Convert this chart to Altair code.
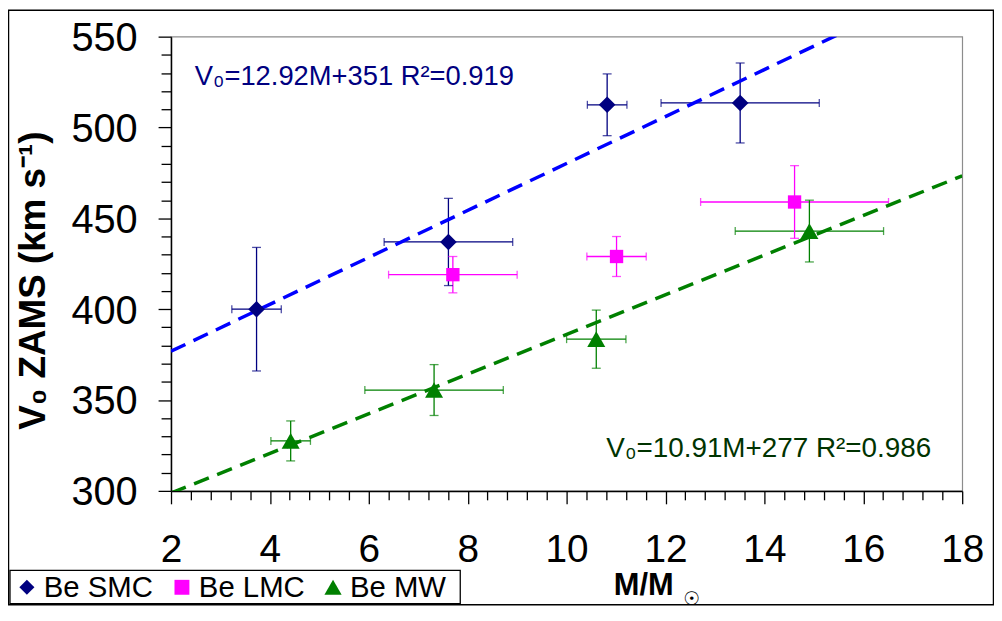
import altair as alt
import pandas as pd

# ---------------- data ----------------
groups = ["Be SMC", "Be LMC", "Be MW"]
colors = ["#000080", "#FF00FF", "#008000"]
shapes = ["diamond", "square", "triangle-up"]

smc_m = [3.73, 7.61, 10.82, 13.51]
smc_v = [400, 437, 512.5, 513.5]
smc_m_err = [0.5, 1.3, 0.4, 1.6]
smc_v_err = [34, 24, 17, 22]

lmc_m = [7.70, 11.01, 14.61]
lmc_v = [419, 429, 459]
lmc_m_err = [1.3, 0.6, 1.9]
lmc_v_err = [10, 11, 20]

mw_m = [4.42, 7.32, 10.60, 14.91]
mw_v = [327.5, 355.5, 383.5, 443]
mw_m_err = [0.4, 1.4, 0.6, 1.5]
mw_v_err = [11, 14, 16, 17]

fit_smc = (12.92, 351)
fit_mw = (10.91, 277)
fit_smc_label = "V₀=12.92M+351 R²=0.919"
fit_mw_label = "V₀=10.91M+277 R²=0.986"

x_range = [2, 18]
y_range = [300, 550]
x_ticks = [round(2 + 0.4 * i, 1) for i in range(41)]
y_ticks = list(range(300, 551, 10))

# ---------------- tables ----------------
rows = []
for g, ms, vs, mes, ves in [
    (groups[0], smc_m, smc_v, smc_m_err, smc_v_err),
    (groups[1], lmc_m, lmc_v, lmc_m_err, lmc_v_err),
    (groups[2], mw_m, mw_v, mw_m_err, mw_v_err),
]:
    for m, v, me, ve in zip(ms, vs, mes, ves):
        rows.append({"group": g, "m": m, "v": v,
                     "m_lo": m - me, "m_hi": m + me,
                     "v_lo": v - ve, "v_hi": v + ve})
df = pd.DataFrame(rows)

fit_rows = []
for name, (a, b) in [("smc", fit_smc), ("mw", fit_mw)]:
    for x in x_range:
        fit_rows.append({"fit": name, "m": x, "v": a * x + b})
fits = pd.DataFrame(fit_rows)
one = pd.DataFrame({"k": [0]})

# ---------------- scales / axes ----------------
FONT = "Liberation Sans"
xs = alt.Scale(domain=x_range, nice=False, zero=False)
ys = alt.Scale(domain=y_range, nice=False, zero=False)

is_minor_x = "abs(datum.value/2 - round(datum.value/2)) > 0.01"
xaxis = alt.Axis(
    values=x_ticks, format=".0f", grid=False,
    labelExpr=f"{is_minor_x} ? '' : datum.label",
    tickSize={"condition": {"test": is_minor_x, "value": 9}, "value": 13},
    labelFont=FONT, labelFontSize=39, labelColor="black", labelPadding=27,
    labelOverlap=False, labelFlush=False, labelBound=False,
    domainColor="black", domainWidth=1.5, tickColor="black", tickWidth=1.3,
    title="M/M", titleFont=FONT, titleFontSize=31, titleFontWeight="bold",
    titleColor="black", titleAlign="left", titleBaseline="alphabetic",
    titleAnchor="start", titleX=445, titleY=104,
)
is_minor_y = "datum.value % 50 !== 0"
yaxis = alt.Axis(
    values=y_ticks, format="d", grid=False,
    labelExpr=f"{is_minor_y} ? '' : datum.label",
    tickSize={"condition": {"test": is_minor_y, "value": 10}, "value": 13},
    labelFont=FONT, labelFontSize=40, labelColor="black", labelPadding=21,
    labelOverlap=False, labelFlush=False, labelBound=False, labelOffset=2,
    domainColor="black", domainWidth=1.5, tickColor="black", tickWidth=1.3,
    title="V₀ ZAMS (km s⁻¹)", titleFont=FONT, titleFontSize=37,
    titleFontWeight="bold", titleColor="black", titleAngle=270,
    titleAlign="center", titleBaseline="alphabetic",
    titleX=-127, titleY=245,
)


def X(f):
    return alt.X(f, type="quantitative", scale=xs, axis=xaxis)


def Y(f):
    return alt.Y(f, type="quantitative", scale=ys, axis=yaxis)


stroke_enc = alt.Stroke("group:N", scale=alt.Scale(domain=groups, range=colors), legend=None)
fill_enc = alt.Fill("group:N", scale=alt.Scale(domain=groups, range=colors), legend=None)

base = alt.Chart(df)

hbar = base.mark_rule(strokeWidth=1.3).encode(x=X("m_lo"), x2="m_hi", y=Y("v"), stroke=stroke_enc)
vbar = base.mark_rule(strokeWidth=1.3).encode(x=X("m"), y=Y("v_lo"), y2="v_hi", stroke=stroke_enc)
cap_l = base.mark_tick(orient="vertical", size=8, thickness=1.3).encode(x=X("m_lo"), y=Y("v"), fill=fill_enc)
cap_r = base.mark_tick(orient="vertical", size=8, thickness=1.3).encode(x=X("m_hi"), y=Y("v"), fill=fill_enc)
cap_b = base.mark_tick(orient="horizontal", size=9, thickness=1.3).encode(x=X("m"), y=Y("v_lo"), fill=fill_enc)
cap_t = base.mark_tick(orient="horizontal", size=9, thickness=1.3).encode(x=X("m"), y=Y("v_hi"), fill=fill_enc)

line_smc = alt.Chart(fits).transform_filter("datum.fit === 'smc'").mark_line(
    clip=True, strokeWidth=3.5, strokeDash=[16, 9], color="#0000FF"
).encode(x=X("m"), y=Y("v"))
line_mw = alt.Chart(fits).transform_filter("datum.fit === 'mw'").mark_line(
    clip=True, strokeWidth=3.5, strokeDash=[16, 9], color="#008000"
).encode(x=X("m"), y=Y("v"))

size_spec = {
    "condition": [
        {"test": "datum.group === 'Be LMC'", "value": 180},
        {"test": "datum.group === 'Be MW'", "value": 330},
    ],
    "value": 280,
}
points = base.mark_point(filled=True, opacity=1).encode(
    x=X("m"), y=Y("v"),
    fill=alt.Fill("group:N", scale=alt.Scale(domain=groups, range=colors), legend=None),
    shape=alt.Shape("group:N", scale=alt.Scale(domain=groups, range=shapes), legend=None),
    size=size_spec,
)

# ---------------- annotations ----------------
txt_smc = alt.Chart(one).mark_text(
    text=fit_smc_label, font=FONT, fontSize=27.5, color="#000080",
    align="left", baseline="alphabetic"
).encode(x=alt.value(24), y=alt.value(49))
txt_mw = alt.Chart(one).mark_text(
    text=fit_mw_label, font=FONT, fontSize=28, color="#003300",
    align="left", baseline="alphabetic"
).encode(x=alt.value(438), y=alt.value(423))
sun = alt.Chart(one).mark_text(
    text="☉", font="DejaVu Sans", fontSize=19, color="black",
    align="center", baseline="middle"
).encode(x=alt.value(524), y=alt.value(566))
frame = alt.Chart(one).mark_rect(
    fillOpacity=0, stroke="black", strokeWidth=1.5
).encode(x=alt.value(-163.5), x2=alt.value(827.5), y=alt.value(-26.5), y2=alt.value(571.5))

# ---------------- legend (boxed, one row) ----------------
legend_box = alt.Chart(one).mark_rect(
    fill="white", stroke="black", strokeWidth=1.3
).encode(x=alt.value(-162), x2=alt.value(291), y=alt.value(537), y2=alt.value(570.5))
legend_sym_x = [-145, 11, 163]
legend_txt_x = [-128, 28, 180]
legend_sizes = [230, 225, 300]
legend_layers = []
for g, c, s, sx, tx, sz in zip(groups, colors, shapes, legend_sym_x, legend_txt_x, legend_sizes):
    legend_layers.append(
        alt.Chart(one).mark_point(filled=True, opacity=1, shape=s, fill=c, size=sz, strokeWidth=0)
        .encode(x=alt.value(sx), y=alt.value(554))
    )
    legend_layers.append(
        alt.Chart(one).mark_text(text=g, font=FONT, fontSize=29.5, color="black",
                                 align="left", baseline="alphabetic")
        .encode(x=alt.value(tx), y=alt.value(564))
    )

chart = alt.layer(
    frame, hbar, vbar, cap_l, cap_r, cap_b, cap_t, line_smc, line_mw, points,
    txt_smc, txt_mw, sun, legend_box, *legend_layers
).properties(
    width=796, height=457, autosize="none",
    padding={"left": 164, "top": 27, "right": 32, "bottom": 116},
    background="white",
).configure_view(stroke="#8c8c8c", strokeWidth=1.2)

chart.save("out.html", embed_options={"renderer": "svg", "actions": False})
